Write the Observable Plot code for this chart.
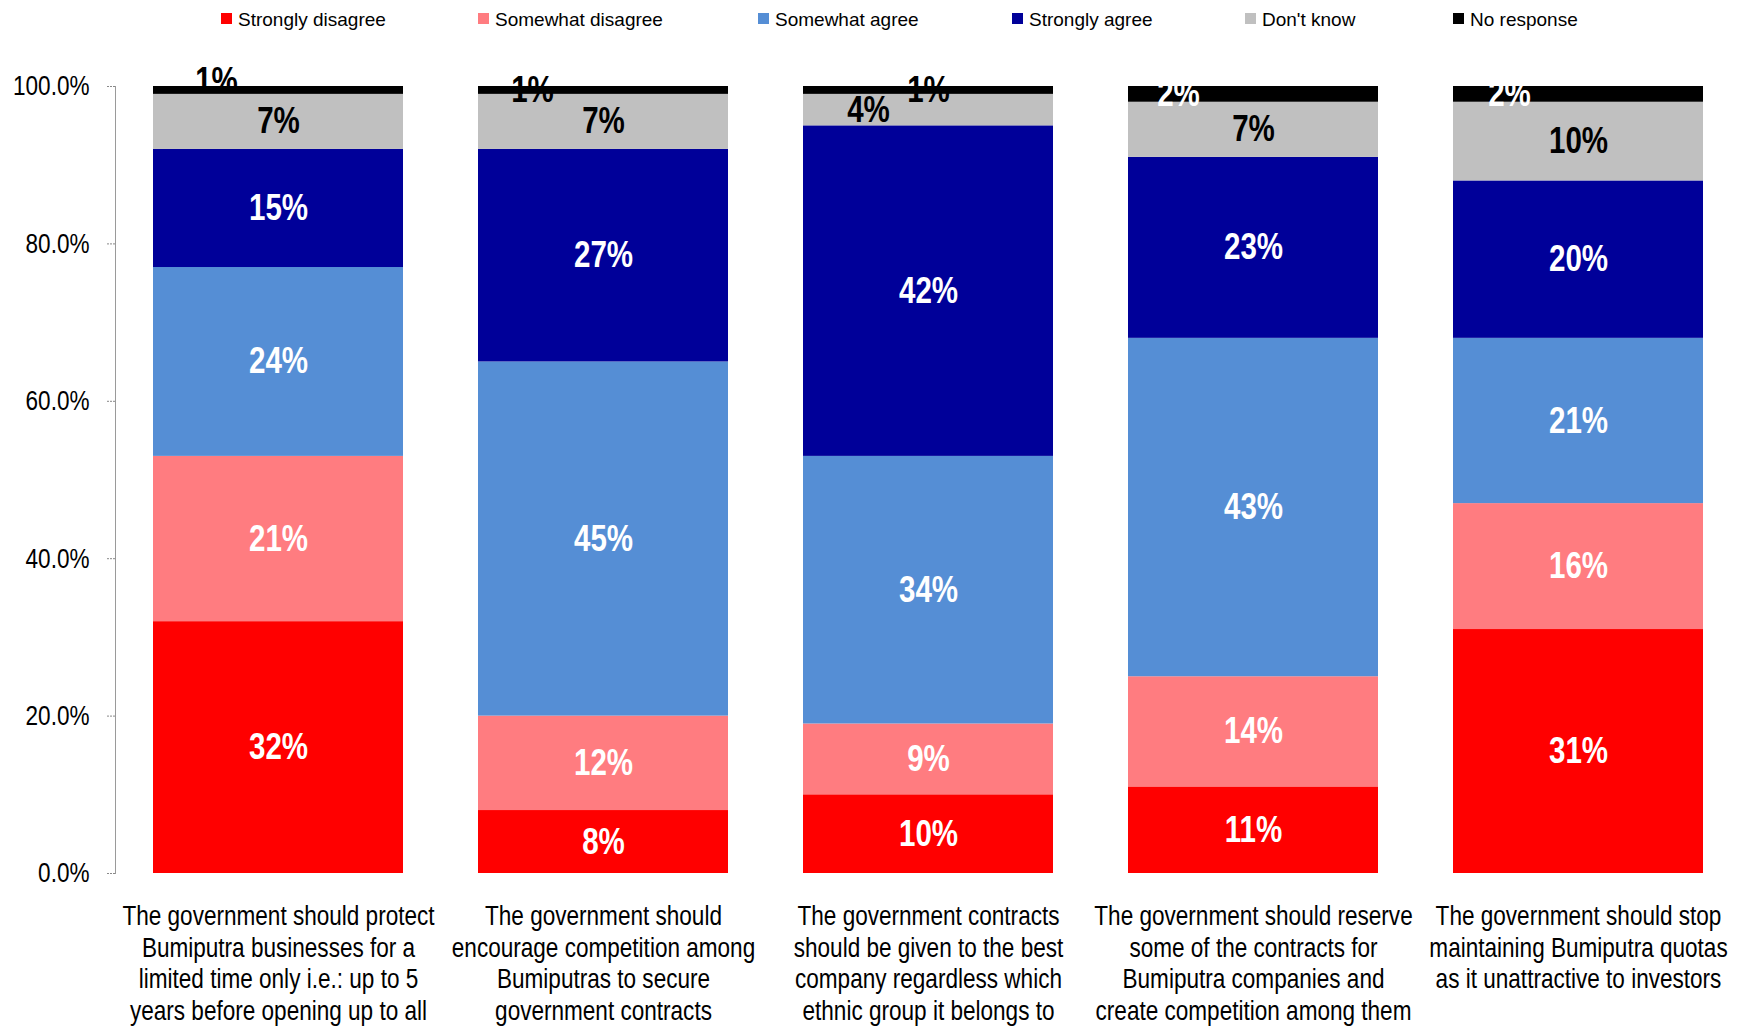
<!DOCTYPE html>
<html>
<head>
<meta charset="utf-8">
<script src="https://cdn.jsdelivr.net/npm/d3@7"></script>
<script src="https://cdn.jsdelivr.net/npm/@observablehq/plot@0.6"></script>
<style>
  body { margin: 0; background: #fff; }
  #legend { position: relative; width: 1744px; height: 40px; font-family: "Liberation Sans", Arial, sans-serif; font-size: 19px; color: #000; }
  #legend .sw { position: absolute; top: 13px; width: 11px; height: 11px; }
  #legend .lb { position: absolute; top: 10px; line-height: 19px; white-space: nowrap; }
</style>
</head>
<body>
<div id="legend"></div>
<div id="chart"></div>
<script>
// ---- data ----
const categories = [
  "The government should protect\nBumiputra businesses for a\nlimited time only i.e.: up to 5\nyears before opening up to all",
  "The government should\nencourage competition among\nBumiputras to secure\ngovernment contracts",
  "The government contracts\nshould be given to the best\ncompany regardless which\nethnic group it belongs to",
  "The government should reserve\nsome of the contracts for\nBumiputra companies and\ncreate competition among them",
  "The government should stop\nmaintaining Bumiputra quotas\nas it unattractive to investors"
];
const responses = ["Strongly disagree", "Somewhat disagree", "Somewhat agree", "Strongly agree", "Don't know", "No response"];
const stronglyDisagree = [32, 8, 10, 11, 31];
const somewhatDisagree = [21, 12, 9, 14, 16];
const somewhatAgree    = [24, 45, 34, 43, 21];
const stronglyAgree    = [15, 27, 42, 23, 20];
const dontKnow         = [7, 7, 4, 7, 10];
const noResponse       = [1, 1, 1, 2, 2];
const yTicks = [0, 20, 40, 60, 80, 100];

// ---- style ----
const colors = ["#FF0000", "#FF7C80", "#558ED5", "#000099", "#C0C0C0", "#000000"];
const baseFont = '"Liberation Sans", Arial, sans-serif';
const narrowFactor = 0.82; // emulate Arial Narrow by horizontal compression
const legendLefts = [221, 478, 758, 1012, 1245, 1453];
// manual label nudges (as in the original chart)
const nudges = {
  "0|No response": [-62, -9],
  "1|No response": [-71, 0],
  "2|Don't know": [-60, 0],
  "3|No response": [-75, 0],
  "4|No response": [-69, 0]
};

const seriesValues = [stronglyDisagree, somewhatDisagree, somewhatAgree, stronglyAgree, dontKnow, noResponse];
const rows = [];
categories.forEach((c, i) => {
  let acc = 0;
  responses.forEach((r, j) => {
    const v = seriesValues[j][i];
    rows.push({category: c, ci: i, response: r, value: v, mid: acc + v / 2, key: i + "|" + r});
    acc += v;
  });
});
const labelColor = d =>
  d.response === "Don't know" ? "#000" :
  d.response === "No response" ? (d.ci < 3 ? "#000" : "#fff") : "#fff";

// legend
const legend = document.getElementById("legend");
responses.forEach((r, j) => {
  const sw = document.createElement("div");
  sw.className = "sw";
  sw.style.left = legendLefts[j] + "px";
  sw.style.background = colors[j];
  legend.appendChild(sw);
  const lb = document.createElement("div");
  lb.className = "lb";
  lb.style.left = (legendLefts[j] + 17) + "px";
  lb.textContent = r;
  legend.appendChild(lb);
});

const labelOpts = {x: "category", y: "mid", text: d => d.value + "%", fill: labelColor,
  fontSize: 36, fontWeight: "bold"};

const marks = [
  Plot.barY(rows, Plot.stackY({x: "category", y: "value", z: "response", fill: "response", order: responses})),
  Plot.text(rows.filter(d => !(d.key in nudges)), labelOpts),
  ...Object.entries(nudges).map(([k, [dx, dy]]) =>
    Plot.text(rows.filter(d => d.key === k), {...labelOpts, dx, dy})),
  Plot.frame({anchor: "left", stroke: "#9a9a9a", strokeDasharray: "1,1"}),
  Plot.axisY(yTicks, {tickSize: 8, tickPadding: 18, fontSize: 27.5, stroke: "#888", strokeDasharray: "2,1",
    tickFormat: d => d.toFixed(1) + "%", label: null}),
  Plot.axisX({tickSize: 0, tickPadding: 29, fontSize: 27.5, lineHeight: 1.15, label: null})
];

const chart = Plot.plot({
  width: 1744,
  height: 986,
  marginTop: 46,
  marginBottom: 153,
  marginLeft: 115,
  marginRight: 3,
  style: {fontFamily: baseFont, color: "#000", background: "#fff"},
  x: {domain: categories, paddingInner: 0.23, paddingOuter: 0.115},
  y: {domain: [0, 100]},
  color: {domain: responses, range: colors},
  marks
});
document.getElementById("chart").appendChild(chart);

// compress every SVG text horizontally to mimic a narrow typeface
chart.querySelectorAll("text").forEach(t => {
  const spans = t.querySelectorAll("tspan");
  const els = spans.length ? Array.from(spans) : [t];
  els.forEach(el => {
    const L = el.getComputedTextLength();
    if (L > 0) {
      el.setAttribute("textLength", (L * narrowFactor).toFixed(2));
      el.setAttribute("lengthAdjust", "spacingAndGlyphs");
    }
  });
});
</script>
</body>
</html>
